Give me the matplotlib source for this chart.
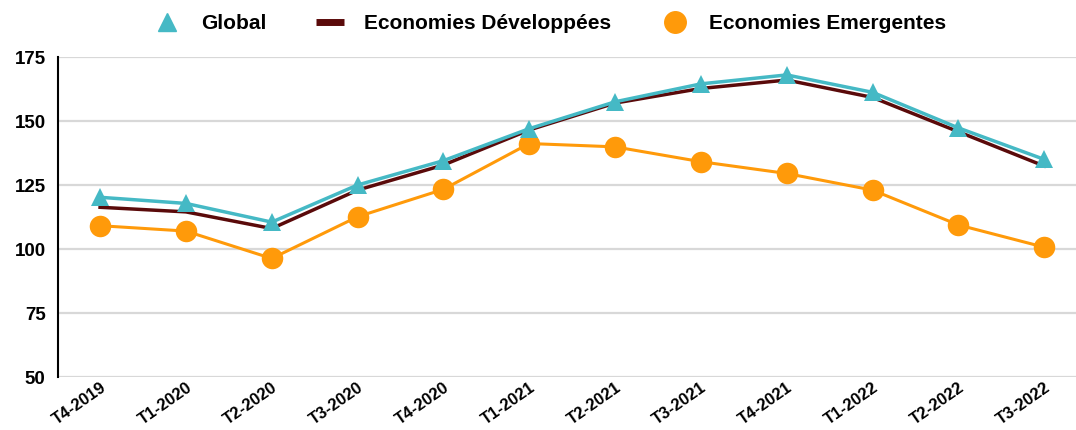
import matplotlib.pyplot as plt
from matplotlib.lines import Line2D

plt.rcParams['font.family'] = ['Liberation Sans', 'DejaVu Sans']

quarters = ['T4-2019', 'T1-2020', 'T2-2020', 'T3-2020', 'T4-2020', 'T1-2021',
            'T2-2021', 'T3-2021', 'T4-2021', 'T1-2022', 'T2-2022', 'T3-2022']
global_idx = [120.2, 117.8, 110.5, 125.0, 134.5, 147.0,
              157.5, 164.5, 168.0, 161.2, 147.3, 135.0]
developed = [116.3, 114.5, 108.0, 123.0, 132.8, 146.5,
             157.0, 162.7, 166.0, 159.2, 145.8, 132.4]
emerging = [109.1, 107.0, 96.3, 112.6, 123.3, 141.2,
            139.9, 134.1, 129.5, 123.0, 109.4, 100.7]

teal = '#45B9C5'
dark = '#5A0A0A'
orange = '#FF9A0A'

fig = plt.figure(figsize=(10.76, 4.30), dpi=100)
ax = fig.add_axes([58 / 1076, 53 / 430, 1018 / 1076, 320 / 430])

x = range(len(quarters))
ax.plot(x, emerging, color=orange, lw=2.2, marker='o', markersize=15.5,
        markeredgewidth=0, zorder=3)
ax.plot(x, developed, color=dark, lw=2.5, zorder=4)
ax.plot(x, global_idx, color=teal, lw=2.5, marker='^', markersize=12.5,
        markeredgewidth=0, zorder=5)

ax.set_ylim(50, 175)
ax.set_yticks([50, 75, 100, 125, 150, 175])
ax.set_xlim(-0.49, 11.37)
ax.set_xticks(list(x))
ax.set_xticklabels(quarters, rotation=35, ha='right', rotation_mode='anchor')

ax.grid(axis='y', color='#D8D8D8', lw=1.6)
ax.set_axisbelow(True)
for side in ['top', 'right', 'bottom']:
    ax.spines[side].set_visible(False)
ax.spines['left'].set_color('black')
ax.spines['left'].set_linewidth(1.5)
ax.tick_params(length=0, labelsize=12)
ax.tick_params(axis='y', pad=9, labelsize=13.5)
ax.tick_params(axis='x', pad=2)
for lbl in ax.get_xticklabels() + ax.get_yticklabels():
    lbl.set_fontweight('bold')

handles = [
    Line2D([], [], color=teal, marker='^', linestyle='none', markersize=12.5),
    Line2D([], [], color=dark, lw=5, solid_capstyle='butt'),
    Line2D([], [], color=orange, marker='o', linestyle='none', markersize=15.5),
]
labels = ['Global', 'Economies Développées', 'Economies Emergentes']
fig.legend(handles, labels, loc='center', bbox_to_anchor=(0.511, 0.945), ncol=3,
           frameon=False, handlelength=1.3, handletextpad=1.0, columnspacing=2.4,
           prop={'weight': 'bold', 'size': 15})

fig.savefig('out.png', dpi=100)
